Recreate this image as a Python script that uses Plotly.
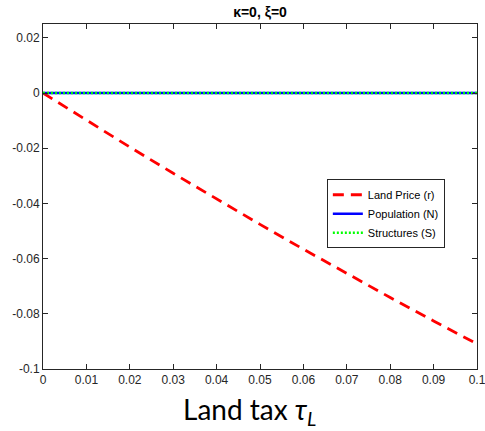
import plotly.graph_objects as go

tau = [0, 0.01, 0.02, 0.03, 0.04, 0.05, 0.06, 0.07, 0.08, 0.09, 0.1]
land_price = [0, -0.0099, -0.0196, -0.0291, -0.0385, -0.0476, -0.0566, -0.0654, -0.0741, -0.0826, -0.0909]
population = [0, 0, 0, 0, 0, 0, 0, 0, 0, 0, 0]
structures = [0, 0, 0, 0, 0, 0, 0, 0, 0, 0, 0]

xtick_vals = [0, 0.01, 0.02, 0.03, 0.04, 0.05, 0.06, 0.07, 0.08, 0.09, 0.1]
xtick_text = ["0", "0.01", "0.02", "0.03", "0.04", "0.05", "0.06", "0.07", "0.08", "0.09", "0.1"]
ytick_vals = [0.02, 0, -0.02, -0.04, -0.06, -0.08, -0.1]
ytick_text = ["0.02", "0", "-0.02", "-0.04", "-0.06", "-0.08", "-0.1"]

fig = go.Figure()
fig.add_trace(go.Scatter(x=tau, y=land_price, mode="lines", name="Land Price (r)",
                         line=dict(color="#ff0000", width=2.8, dash="11px,7px")))
fig.add_trace(go.Scatter(x=tau, y=population, mode="lines", name="Population (N)",
                         line=dict(color="#0000ff", width=2.5)))
fig.add_trace(go.Scatter(x=tau, y=structures, mode="lines", name="Structures (S)",
                         line=dict(color="#00ff00", width=2.5, dash="2px,2px")))

axis_common = dict(showline=True, linecolor="#262626", linewidth=1, mirror="ticks",
                   ticks="inside", ticklen=5, tickcolor="#262626", showgrid=False,
                   zeroline=False, ticklabeloverflow="allow", automargin=False,
                   tickfont=dict(family="Liberation Sans, Arial", size=12, color="#262626"))

fig.update_xaxes(range=[0, 0.1], tickvals=xtick_vals, ticktext=xtick_text, **axis_common)
fig.update_yaxes(range=[-0.1, 0.025], tickvals=ytick_vals, ticktext=ytick_text, **axis_common)

fig.update_layout(
    width=485, height=431,
    margin=dict(l=43, r=8, t=24, b=62, autoexpand=False),
    paper_bgcolor="white", plot_bgcolor="white",
    title=dict(text="<b>κ=0, ξ=0</b>", x=(43 + 434 / 2) / 485, xanchor="center",
               y=1 - 12 / 431, yanchor="middle",
               font=dict(family="Liberation Sans, Arial", size=14, color="black")),
    legend=dict(x=0.654, y=0.55, xanchor="left", yanchor="top",
                bgcolor="white", bordercolor="#262626", borderwidth=1,
                font=dict(family="Liberation Sans, Arial", size=11, color="black"),
                tracegroupgap=0, itemwidth=30),
    showlegend=True,
    annotations=[dict(text="Land tax <i>τ</i><sub><i>L</i></sub>", xref="paper", yref="paper",
                      x=(249 - 43) / 434, y=-(411 - 369) / 345, xanchor="center", yanchor="middle",
                      showarrow=False,
                      font=dict(family="Lato, Open Sans", size=28, color="black"))],
)

fig.write_html("out.html")
